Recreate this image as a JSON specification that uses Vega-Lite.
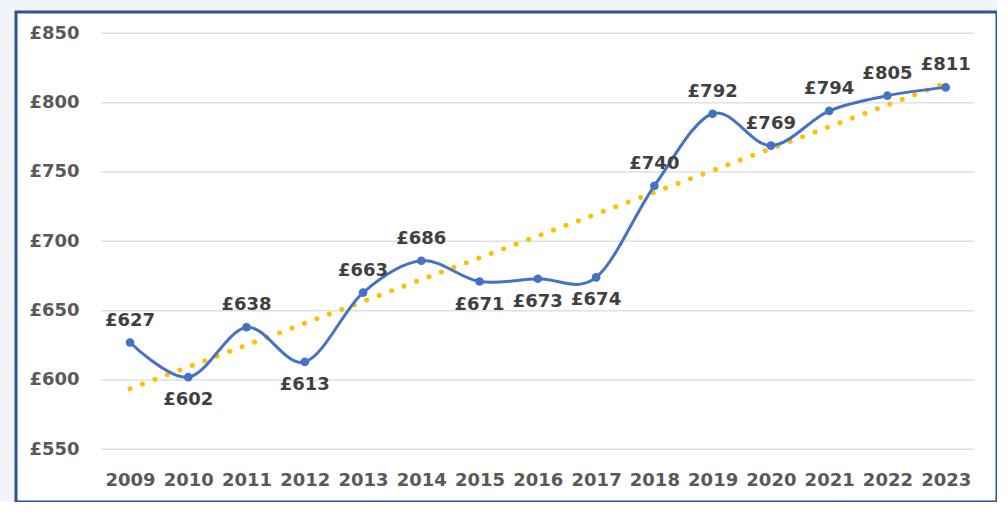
{
  "$schema": "https://vega.github.io/schema/vega-lite/v6.json",
  "width": 981,
  "height": 490,
  "autosize": {"type": "none"},
  "padding": {"left": 16, "top": 12, "right": 0, "bottom": 0},
  "background": "#f2f4f8",
  "config": {
    "view": {"stroke": "#2F5496", "strokeWidth": 3, "fill": "white"},
    "font": "DejaVu Sans",
    "axis": {
      "title": null, "grid": false, "domain": false, "ticks": false,
      "labelFont": "DejaVu Sans", "labelFontSize": 18, "labelFontWeight": "bold",
      "labelColor": "#595959", "labelFlush": false, "labelOverlap": false
    }
  },
  "datasets": {
    "prices": [
      {"year": 2009, "value": 627, "label": "£627"},
      {"year": 2010, "value": 602, "label": "£602"},
      {"year": 2011, "value": 638, "label": "£638"},
      {"year": 2012, "value": 613, "label": "£613"},
      {"year": 2013, "value": 663, "label": "£663"},
      {"year": 2014, "value": 686, "label": "£686"},
      {"year": 2015, "value": 671, "label": "£671"},
      {"year": 2016, "value": 673, "label": "£673"},
      {"year": 2017, "value": 674, "label": "£674"},
      {"year": 2018, "value": 740, "label": "£740"},
      {"year": 2019, "value": 792, "label": "£792"},
      {"year": 2020, "value": 769, "label": "£769"},
      {"year": 2021, "value": 794, "label": "£794"},
      {"year": 2022, "value": 805, "label": "£805"},
      {"year": 2023, "value": 811, "label": "£811"}
    ],
    "grid": [
      {"gridValue": 550, "from": 2008.5, "to": 2023.5},
      {"gridValue": 600, "from": 2008.5, "to": 2023.5},
      {"gridValue": 650, "from": 2008.5, "to": 2023.5},
      {"gridValue": 700, "from": 2008.5, "to": 2023.5},
      {"gridValue": 750, "from": 2008.5, "to": 2023.5},
      {"gridValue": 800, "from": 2008.5, "to": 2023.5},
      {"gridValue": 850, "from": 2008.5, "to": 2023.5}
    ]
  },
  "layer": [
    {
      "data": {"name": "grid"},
      "mark": {"type": "rule", "color": "#e0e0e0", "strokeWidth": 1.5},
      "encoding": {
        "x": {
          "field": "from", "type": "quantitative",
          "scale": {"domain": [2007.043, 2023.881], "nice": false, "zero": false},
          "axis": {
            "values": [2009, 2010, 2011, 2012, 2013, 2014, 2015, 2016, 2017, 2018, 2019, 2020, 2021, 2022, 2023],
            "format": "d", "offset": -33, "labelPadding": 2
          }
        },
        "x2": {"field": "to"},
        "y": {
          "field": "gridValue", "type": "quantitative",
          "scale": {"domain": [512.0, 865.36], "nice": false, "zero": false},
          "axis": {
            "values": [550, 600, 650, 700, 750, 800, 850],
            "labelExpr": "'£' + datum.value", "offset": -70, "labelPadding": 7
          }
        }
      }
    },
    {
      "data": {"name": "prices"},
      "transform": [{"regression": "value", "on": "year", "extent": [2009, 2023]}],
      "mark": {"type": "line", "color": "#FFC000", "strokeWidth": 5, "strokeCap": "round", "strokeDash": [0.1, 13.2]},
      "encoding": {
        "x": {"field": "year", "type": "quantitative"},
        "y": {"field": "value", "type": "quantitative"}
      }
    },
    {
      "data": {"name": "prices"},
      "mark": {"type": "line", "color": "#4472C4", "strokeWidth": 3, "interpolate": "cardinal"},
      "encoding": {
        "x": {"field": "year", "type": "quantitative"},
        "y": {"field": "value", "type": "quantitative"}
      }
    },
    {
      "data": {"name": "prices"},
      "mark": {"type": "point", "filled": true, "color": "#4472C4", "size": 75, "opacity": 1},
      "encoding": {
        "x": {"field": "year", "type": "quantitative"},
        "y": {"field": "value", "type": "quantitative"}
      }
    },
    {
      "data": {"name": "prices"},
      "transform": [{"filter": {"not": {"field": "year", "oneOf": [2010, 2012, 2015, 2016, 2017]}}}],
      "mark": {"type": "text", "dy": -22, "fontSize": 18, "fontWeight": "bold", "color": "#404040", "font": "DejaVu Sans"},
      "encoding": {
        "x": {"field": "year", "type": "quantitative"},
        "y": {"field": "value", "type": "quantitative"},
        "text": {"field": "label"}
      }
    },
    {
      "data": {"name": "prices"},
      "transform": [{"filter": {"field": "year", "oneOf": [2010, 2012, 2015, 2016, 2017]}}],
      "mark": {"type": "text", "dy": 23, "fontSize": 18, "fontWeight": "bold", "color": "#404040", "font": "DejaVu Sans"},
      "encoding": {
        "x": {"field": "year", "type": "quantitative"},
        "y": {"field": "value", "type": "quantitative"},
        "text": {"field": "label"}
      }
    }
  ]
}
